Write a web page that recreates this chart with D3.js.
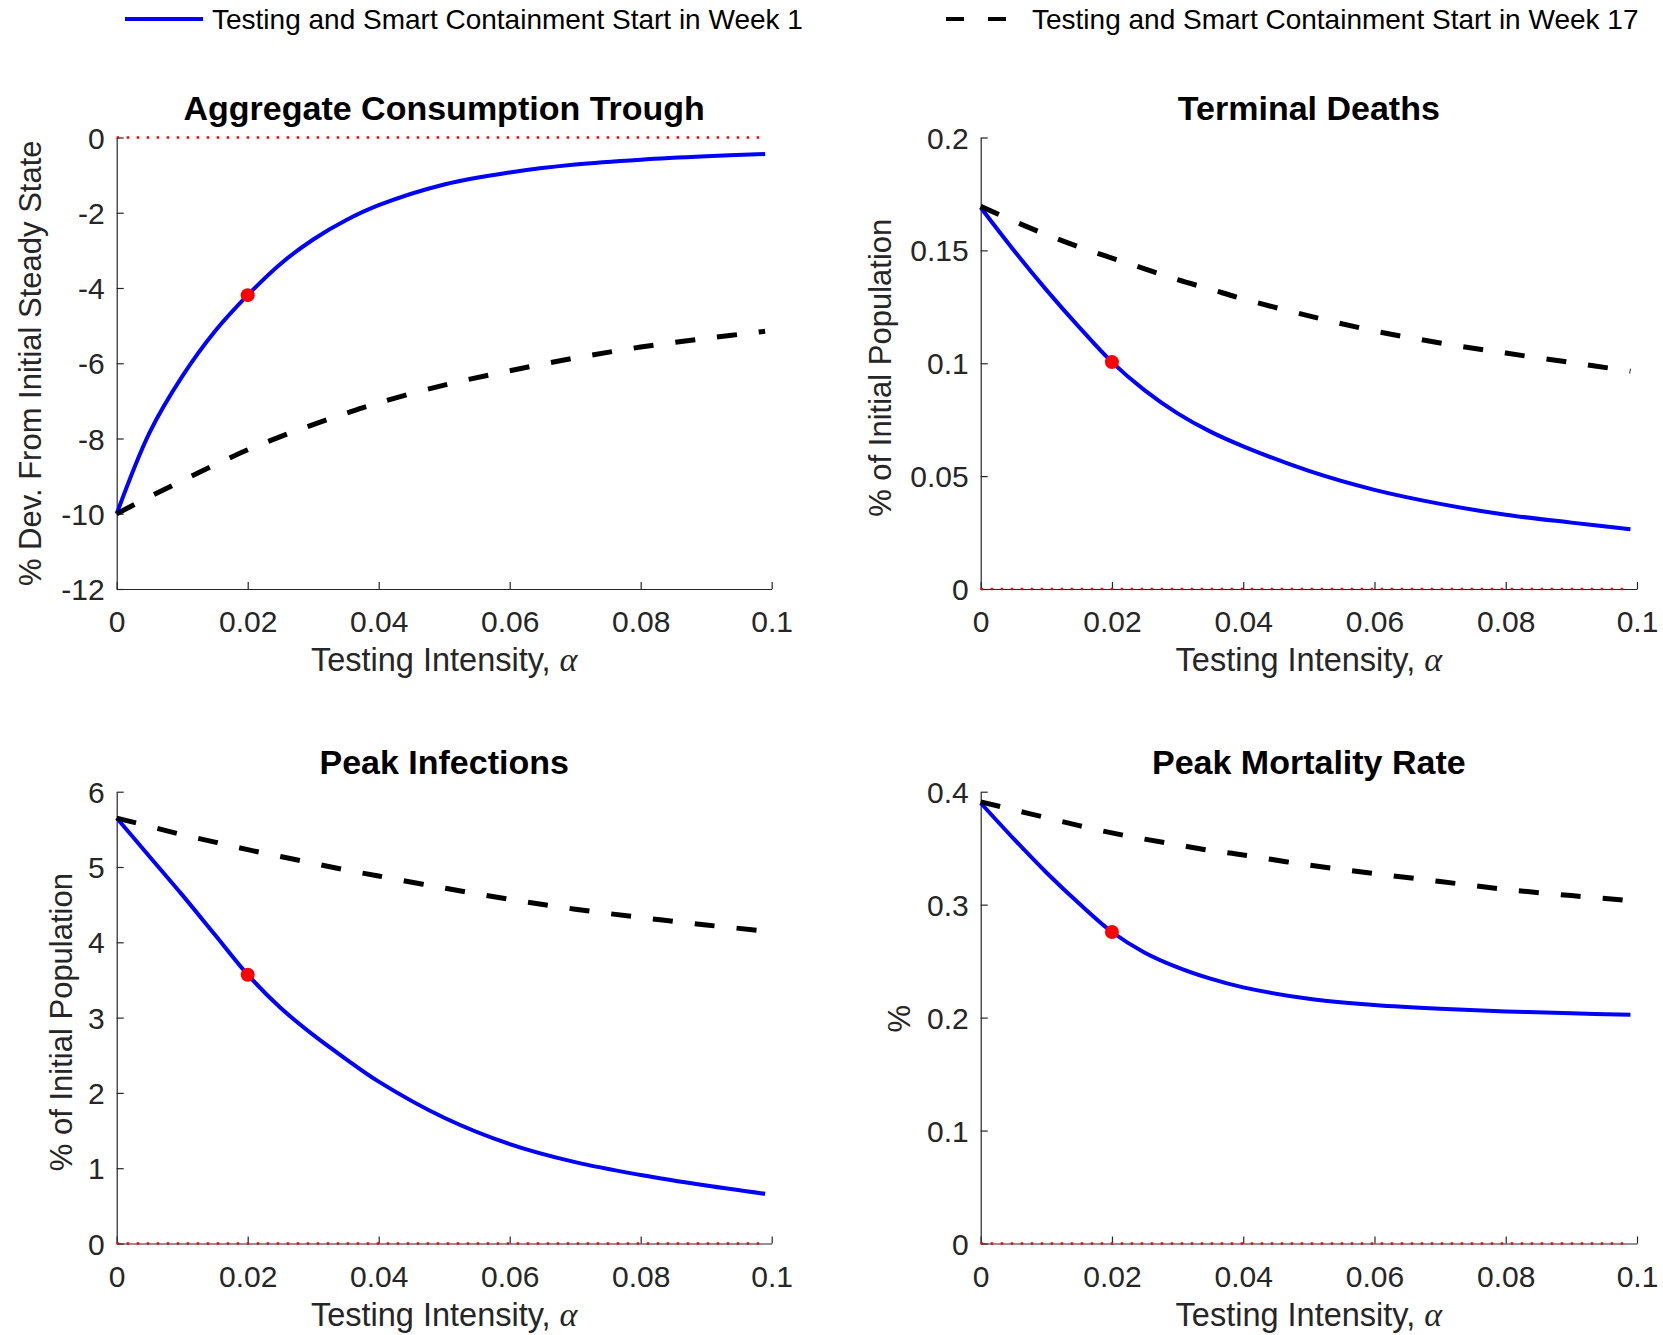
<!DOCTYPE html>
<html>
<head>
<meta charset="utf-8">
<script src="https://cdn.jsdelivr.net/npm/d3@7"></script>
<style>
  body { margin: 0; background: #fff; }
  text { font-family: "Liberation Sans", Arial, Helvetica, sans-serif; }
</style>
</head>
<body>
<svg id="chart" width="1663" height="1335"></svg>
<script>
// ---------------- DATA ----------------
const alpha = [0, 0.005, 0.01, 0.015, 0.02, 0.025, 0.03, 0.035, 0.04, 0.05, 0.06, 0.07, 0.08, 0.09, 0.099];

const consumptionWeek1  = [-10, -7.85, -6.35, -5.15, -4.19, -3.36, -2.71, -2.2, -1.8, -1.25, -0.93, -0.72, -0.59, -0.5, -0.44];
const consumptionWeek17 = [-10, -9.55, -9.12, -8.7, -8.3, -7.95, -7.63, -7.33, -7.05, -6.58, -6.2, -5.86, -5.57, -5.34, -5.15];

const deathsWeek1  = [0.169, 0.1502, 0.1325, 0.116, 0.1005, 0.088, 0.0778, 0.0697, 0.0632, 0.0523, 0.0439, 0.0377, 0.0329, 0.0294, 0.0265];
const deathsWeek17 = [0.1695, 0.163, 0.157, 0.1515, 0.1466, 0.1418, 0.137, 0.1328, 0.1285, 0.121, 0.1143, 0.109, 0.1045, 0.1003, 0.0965];

const infectionsWeek1  = [5.65, 5.14, 4.63, 4.1, 3.57, 3.13, 2.77, 2.45, 2.15, 1.67, 1.32, 1.08, 0.91, 0.77, 0.66];
const infectionsWeek17 = [5.65, 5.54, 5.43, 5.33, 5.23, 5.14, 5.05, 4.96, 4.88, 4.72, 4.57, 4.44, 4.33, 4.23, 4.15];

const mortalityWeek1  = [0.39, 0.3585, 0.3285, 0.301, 0.2758, 0.2575, 0.2445, 0.2345, 0.2268, 0.2167, 0.2112, 0.2078, 0.2055, 0.2038, 0.2026];
const mortalityWeek17 = [0.391, 0.384, 0.377, 0.37, 0.3635, 0.358, 0.353, 0.348, 0.344, 0.335, 0.3275, 0.3205, 0.3135, 0.308, 0.3035];

const xTicks = [0, 0.02, 0.04, 0.06, 0.08, 0.1];
const consumptionTicks = [-12, -10, -8, -6, -4, -2, 0];
const deathsTicks = [0, 0.05, 0.1, 0.15, 0.2];
const infectionsTicks = [0, 1, 2, 3, 4, 5, 6];
const mortalityTicks = [0, 0.1, 0.2, 0.3, 0.4];

const zeroLineAlpha = [0, 0.099];
const zeroLineValue = [0, 0];
const markerAlpha = 0.02;

const legendLabels = ["Testing and Smart Containment Start in Week 1", "Testing and Smart Containment Start in Week 17"];
const titles = ["Aggregate Consumption Trough", "Terminal Deaths", "Peak Infections", "Peak Mortality Rate"];
const yLabels = ["% Dev. From Initial Steady State", "% of Initial Population", "% of Initial Population", "%"];
const xLabel = "Testing Intensity, ";

// ---------------- LAYOUT ----------------
const svg = d3.select("#chart");
const AX = "#262626";
const panels = [
  { week1: consumptionWeek1, week17: consumptionWeek17, ticks: consumptionTicks, domain: [-12, 0], x0: 116.7, x1: 771.7, y0: 137.5, y1: 589, labOff: 76, labShift: 0 },
  { week1: deathsWeek1, week17: deathsWeek17, ticks: deathsTicks, domain: [0, 0.2], x0: 980.7, x1: 1637, y0: 137.5, y1: 589, labOff: 90, labShift: 4.5 },
  { week1: infectionsWeek1, week17: infectionsWeek17, ticks: infectionsTicks, domain: [0, 6], x0: 116.7, x1: 771.7, y0: 791.7, y1: 1243.5, labOff: 45, labShift: 4.5 },
  { week1: mortalityWeek1, week17: mortalityWeek17, ticks: mortalityTicks, domain: [0, 0.4], x0: 980.7, x1: 1637, y0: 791.7, y1: 1243.5, labOff: 71, labShift: 1 }
];

const fmt = d => String(+d.toFixed(4));

panels.forEach((p, i) => {
  const x = d3.scaleLinear().domain([0, 0.1]).range([p.x0, p.x1]);
  const y = d3.scaleLinear().domain(p.domain).range([p.y1, p.y0]);
  const g = svg.append("g");

  // axes
  const xa = g.append("g").attr("transform", `translate(0,${p.y1})`)
    .call(d3.axisBottom(x).tickValues(xTicks).tickFormat(fmt).tickSizeInner(-7).tickSizeOuter(0).tickPadding(22));
  const ya = g.append("g").attr("transform", `translate(${p.x0},0)`)
    .call(d3.axisLeft(y).tickValues(p.ticks).tickFormat(fmt).tickSizeInner(-7).tickSizeOuter(0).tickPadding(12));
  [xa, ya].forEach(a => {
    a.select(".domain").attr("stroke", AX).attr("stroke-width", 1.2);
    a.selectAll(".tick line").attr("stroke", AX).attr("stroke-width", 1.2);
    a.selectAll(".tick text").attr("fill", AX).style("font-size", "30px")
      .style("font-family", '"Liberation Sans", Arial, Helvetica, sans-serif');
  });
  ya.selectAll(".tick text").attr("dy", "0.35em");

  const line = d3.line().x(d => x(d[0])).y(d => y(d[1])).curve(d3.curveCatmullRom.alpha(0.5));

  // red zero reference line
  g.append("path")
    .datum(zeroLineAlpha.map((a, k) => [a, zeroLineValue[k]]))
    .attr("d", d3.line().x(d => x(d[0])).y(d => y(d[1])))
    .attr("fill", "none").attr("stroke", "#ff0000").attr("stroke-width", 2.5)
    .attr("stroke-dasharray", "2.5,7.5");

  // week 1 (solid blue)
  g.append("path")
    .datum(alpha.map((a, k) => [a, p.week1[k]]))
    .attr("d", line).attr("fill", "none").attr("stroke", "#0000ff").attr("stroke-width", 4);

  // week 17 (dashed black)
  g.append("path")
    .datum(alpha.map((a, k) => [a, p.week17[k]]))
    .attr("d", line).attr("fill", "none").attr("stroke", "#000").attr("stroke-width", 5)
    .attr("stroke-dasharray", "20,22");

  // red marker
  const mi = alpha.indexOf(markerAlpha);
  g.append("circle").attr("cx", x(markerAlpha)).attr("cy", y(p.week1[mi])).attr("r", 7).attr("fill", "#ff0000");

  // title
  g.append("text").attr("x", (p.x0 + p.x1) / 2).attr("y", p.y0 - 17.5)
    .attr("text-anchor", "middle").style("font-size", "34px").style("font-weight", "bold").attr("fill", "#000")
    .text(titles[i]);

  // x label
  const xl = g.append("text").attr("x", (p.x0 + p.x1) / 2).attr("y", p.y1 + 82)
    .attr("text-anchor", "middle").style("font-size", "32.5px").attr("fill", AX);
  xl.append("tspan").text(xLabel);
  xl.append("tspan").style("font-family", '"Liberation Serif", "DejaVu Serif", serif').style("font-style", "italic")
    .style("font-size", "34px").text("α");

  // y label
  g.append("text").attr("transform", `translate(${p.x0 - p.labOff},${(p.y0 + p.y1) / 2 + p.labShift}) rotate(-90)`)
    .attr("text-anchor", "middle").style("font-size", "31px").attr("fill", AX)
    .text(yLabels[i]);
});

// ---------------- LEGEND ----------------
const leg = svg.append("g");
leg.append("line").attr("x1", 125).attr("x2", 203).attr("y1", 19).attr("y2", 19)
  .attr("stroke", "#0000ff").attr("stroke-width", 4);
leg.append("text").attr("x", 212).attr("y", 28.5).style("font-size", "28px").attr("fill", "#000").text(legendLabels[0]);
leg.append("line").attr("x1", 946).attr("x2", 1008).attr("y1", 19).attr("y2", 19)
  .attr("stroke", "#000").attr("stroke-width", 4).attr("stroke-dasharray", "18,24");
leg.append("text").attr("x", 1032).attr("y", 28.5).style("font-size", "28px").attr("fill", "#000").text(legendLabels[1]);
</script>
</body>
</html>
